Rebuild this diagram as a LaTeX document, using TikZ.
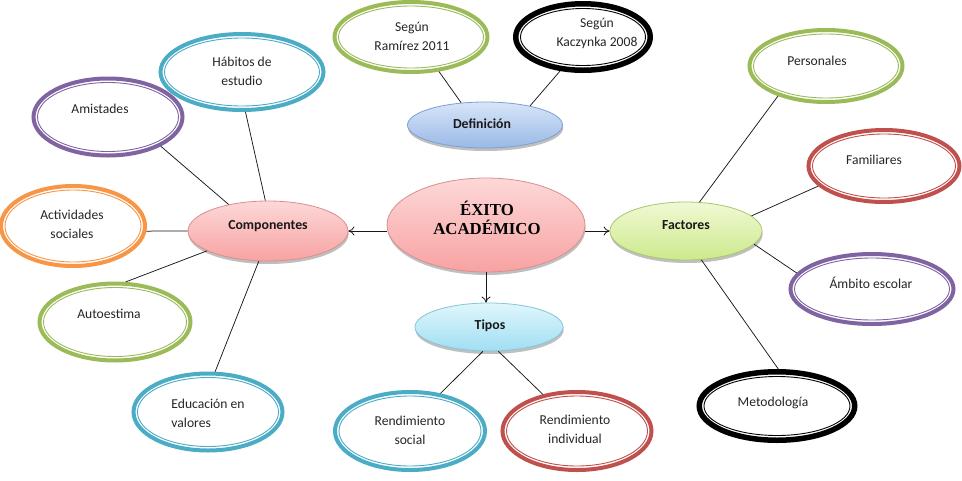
\documentclass[tikz,border=0pt]{standalone}
\usepackage{fontspec}
\setmainfont{Carlito}
\newfontfamily\timesbf{Liberation Serif}
\usetikzlibrary{shapes.geometric,arrows.meta,shadows}

\definecolor{cteal}{HTML}{4BACC6}
\definecolor{cpurple}{HTML}{8064A2}
\definecolor{corange}{HTML}{F79646}
\definecolor{cgreen}{HTML}{9BBB59}
\definecolor{cred}{HTML}{C0504D}
\definecolor{cblack}{HTML}{000000}
\definecolor{pinkT}{HTML}{FDD8D8}
\definecolor{pinkB}{HTML}{F8A2A2}
\definecolor{pinkD}{HTML}{D98F8F}
\definecolor{limeT}{HTML}{F0F9D4}
\definecolor{limeB}{HTML}{CDE98C}
\definecolor{limeD}{HTML}{A9C76C}
\definecolor{bluT}{HTML}{D8E5F8}
\definecolor{bluB}{HTML}{99B9E6}
\definecolor{bluD}{HTML}{7E9FD4}
\definecolor{cyaT}{HTML}{E0F6FC}
\definecolor{cyaB}{HTML}{A0DEF3}
\definecolor{cyaD}{HTML}{86C5D9}

\tikzset{
  ringout/.style={ellipse, draw=#1, line width=4pt, inner sep=0pt, fill=white},
  txt/.style={font=\fontsize{13.6}{19}\selectfont, inner sep=0pt, align=center, text=black!85},
  core/.style n args={3}{ellipse, draw=#3, line width=0.8pt, inner sep=0pt,
     shading=axis, top color=#1, bottom color=#2,
     drop shadow={shadow xshift=0.6pt, shadow yshift=-3pt, opacity=0.55, fill=black!45}},
  btxt/.style={font=\fontsize{13.8}{16}\selectfont\bfseries, inner sep=0pt, text=black!90},
  conn/.style={draw=black!90, line width=0.75pt},
  arr/.style={draw=black!90, line width=0.8pt, -{To[length=6pt,width=9pt]}}
}

\newcommand{\ringnode}[7]{%
  \node[ringout=#6, line width=#7pt, minimum width=#4pt-#7pt, minimum height=#5pt-#7pt] (#1) at (#2,#3) {};
  \draw[#6, line width=0.9pt] (#1.center) ellipse [x radius=#4pt/2-#7pt-2pt, y radius=#5pt/2-#7pt-2pt];
}

\begin{document}
\begin{tikzpicture}[x=1pt,y=-1pt]
\fill[white] (0,0) rectangle (962,480);
\useasboundingbox (0,0) rectangle (962,480);

% central and main ellipses
\node[core={pinkT}{pinkB}{pinkD}, minimum width=198pt, minimum height=94pt] (exito) at (486,225) {};
\node[font=\fontsize{16.8}{19}\selectfont\timesbf\bfseries, inner sep=0pt, align=center] (exito-t) at (487,218) {ÉXITO\\ACADÉMICO};

\node[core={pinkT}{pinkB}{pinkD}, minimum width=160pt, minimum height=60pt] (comp) at (268,231) {};
\node[btxt] (comp-t) at (268,226) {Componentes};

\node[core={limeT}{limeB}{limeD}, minimum width=152pt, minimum height=58pt] (fact) at (686,231) {};
\node[btxt] (fact-t) at (686,225) {Factores};

\node[core={bluT}{bluB}{bluD}, minimum width=155pt, minimum height=46pt] (defi) at (485,125) {};
\node[btxt] (defi-t) at (482,124) {Definición};

\node[core={cyaT}{cyaB}{cyaD}, minimum width=148pt, minimum height=48pt] (tipos) at (489,327) {};
\node[btxt] (tipos-t) at (490,326) {Tipos};

% ring ellipses
\ringnode{ram}{411}{37}{157}{74}{cgreen}{4}
\node[txt] (ram-t) at (412,36) {Según\\Ramírez 2011};
\ringnode{kac}{583}{37}{140}{72}{cblack}{5.5}
\node[txt] (kac-t) at (597,33) {Según\\Kaczynka 2008};

\ringnode{hab}{242}{72}{167}{80}{cteal}{4}
\node[txt] (hab-t) at (242,71) {Hábitos de\\estudio};
\ringnode{ami}{108}{117}{153}{81}{cpurple}{4}
\node[txt] (ami-t) at (100,109) {Amistades};
\ringnode{act}{73}{226}{148}{84}{corange}{4}
\node[txt] (act-t) at (72,224) {Actividades\\sociales};
\ringnode{auto}{115}{322}{155}{81}{cgreen}{4}
\node[txt] (auto-t) at (109,314) {Autoestima};
\ringnode{edu}{208}{412}{153}{81}{cteal}{4}
\node[txt, align=left] (edu-t) at (208,413) {Educación en\\valores};

\ringnode{rs}{410}{431}{154}{82}{cteal}{4}
\node[txt] (rs-t) at (410,430) {Rendimiento\\social};
\ringnode{ri}{577}{431}{153}{82}{cred}{4}
\node[txt] (ri-t) at (575,429) {Rendimiento\\individual};

\ringnode{pers}{826}{66}{157}{76}{cgreen}{4}
\node[txt] (pers-t) at (817,61) {Personales};
\ringnode{fam}{884}{166}{155}{76}{cred}{4}
\node[txt] (fam-t) at (874,160) {Familiares};
\ringnode{amb}{872}{289}{167}{74}{cpurple}{4}
\node[txt] (amb-t) at (871,283) {Ámbito escolar};
\ringnode{met}{777}{406}{161}{74}{cblack}{5.5}
\node[txt] (met-t) at (773,403) {Metodología};

% connectors
\draw[conn] (ram.-51) -- (defi.137);
\draw[conn] (kac.236) -- (defi.23);
\draw[conn] (hab.-85) -- (comp.95);
\draw[conn] (ami.-29) -- (comp.146);
\draw[conn] (act.-4) -- (comp.west);
\draw[conn] (auto.75) -- (comp.198);
\draw[conn] (edu.80) -- (comp.253);
\draw[conn] (tipos.256) -- (rs.51);
\draw[conn] (tipos.291) -- (ri.133);
\draw[conn] (pers.212) -- (fact.65);
\draw[conn] (fam.197) -- (fact.13);
\draw[conn] (amb.168) -- (fact.-11);
\draw[conn] (met.88) -- (fact.-62);

% arrows
\draw[arr] (exito.west |- comp.east) -- (comp.east);
\draw[arr] (exito.east |- fact.west) -- (fact.west);
\draw[arr] (exito.south) -- (exito.south |- tipos.north);
\end{tikzpicture}
\end{document}
